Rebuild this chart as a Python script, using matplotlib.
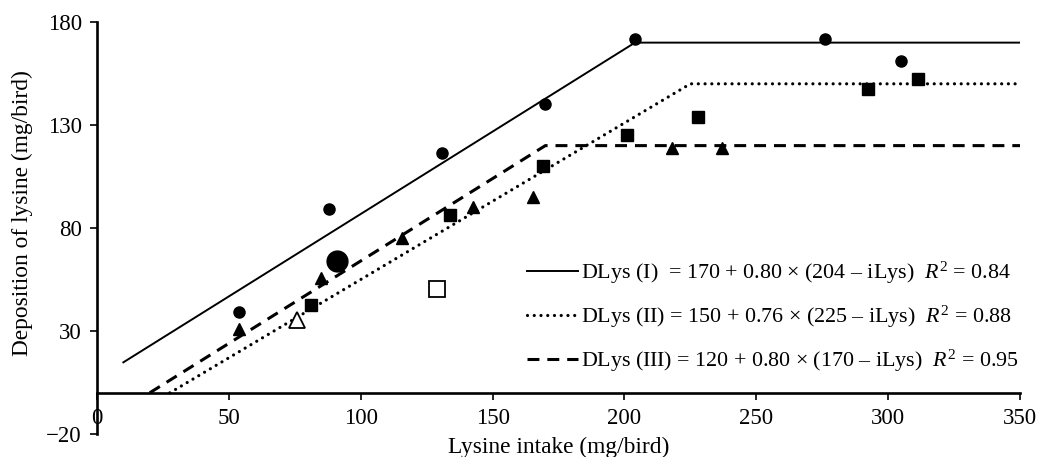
import matplotlib
matplotlib.use("agg")
import matplotlib.pyplot as plt
import numpy as np

plt.rcParams['font.family'] = ['Liberation Serif', 'DejaVu Serif']
plt.rcParams['mathtext.fontset'] = 'custom'
plt.rcParams['mathtext.rm'] = 'Liberation Serif'
plt.rcParams['mathtext.it'] = 'Liberation Serif:italic'

# broken-line models (plateau, slope, break point, first x drawn)
models = [
    ["DLys (I)  = 170 + 0.80 \u00d7 (204 \u2013 iLys)  $R^2$ = 0.84", 170, 0.80, 204, 10],
    ["DLys (II) = 150 + 0.76 \u00d7 (225 \u2013 iLys)  $R^2$ = 0.88", 150, 0.76, 225, 27.6],
    ["DLys (III) = 120 + 0.80 \u00d7 (170 \u2013 iLys)  $R^2$ = 0.95", 120, 0.80, 170, 20],
]
x_end = 350

# observed points
circ_x = [54, 88, 131, 170, 204, 276, 305]
circ_y = [39, 89, 116.5, 140, 172, 172, 161]
sq_x = [81, 134, 169, 201, 228, 292.5, 311.5]
sq_y = [42.5, 86.5, 110, 125, 134, 147.5, 152.5]
tri_x = [54, 85, 115.5, 142.5, 165.5, 218, 237]
tri_y = [31, 55.5, 75, 90, 95, 119, 119]
big_circ = [91, 64]
open_sq = [129, 50.5]
open_tri = [75.8, 35.3]

xticks = [0, 50, 100, 150, 200, 250, 300, 350]
yticks = [-20, 30, 80, 130, 180]

fig = plt.figure(figsize=(10.44, 4.57), dpi=100)
ax = fig.add_axes([0.0929, 0.0503, 0.8841, 0.9015])

styles = [
    dict(linestyle='-', linewidth=1.4),
    dict(linestyle=(0, (0.01, 2.1)), linewidth=2.3, dash_capstyle='round'),
    dict(linestyle=(0, (3.9, 2.6)), linewidth=2.2),
]
handles = []
for m, st in zip(models, styles):
    label, plateau, slope, bp, x0 = m
    xs = np.array([x0, bp, x_end])
    ys = np.where(xs < bp, plateau - slope * (bp - xs), plateau)
    h, = ax.plot(xs, ys, color='black', **st)
    handles.append(h)

ax.plot(circ_x, circ_y, 'o', color='black', ms=8, zorder=3)
ax.plot(sq_x, sq_y, 's', color='black', ms=8, zorder=3)
ax.plot(tri_x, tri_y, '^', color='black', ms=8.5, zorder=3)
ax.plot(big_circ[0], big_circ[1], 'o', color='black', ms=15, zorder=3)
ax.plot(open_sq[0], open_sq[1], 's', mfc='white', mec='black', mew=1.3, ms=11.5, zorder=3)
ax.plot(open_tri[0], open_tri[1], '^', mfc='white', mec='black', mew=1.3, ms=12, zorder=3)

ax.set_xlim(0, 350)
ax.set_ylim(-20, 180)
ax.set_xticks(xticks)
ax.set_yticks(yticks)
ax.spines['top'].set_visible(False)
ax.spines['right'].set_visible(False)
ax.spines['bottom'].set_position(('data', 0))
ax.spines['bottom'].set_linewidth(1.9)
ax.spines['left'].set_linewidth(1.9)
ax.tick_params(direction='out', length=5, width=1.2, labelsize=16.5, pad=6)

ax.set_xlabel("Lysine intake (mg/bird)", fontsize=16.8)
ax.set_ylabel("Deposition of lysine (mg/bird)", fontsize=16.8)
ax.xaxis.set_label_coords(0.5, -0.032)
ax.xaxis.label.set_va('center')
ax.yaxis.set_label_coords(-0.081, 0.536)
ax.yaxis.label.set_va('center')

leg = ax.legend(handles, [m[0] for m in models], loc='upper left',
                bbox_to_anchor=(0.466, 0.422), frameon=False, fontsize=15.8,
                handlelength=2.3, handletextpad=0.15, labelspacing=0.8,
                borderpad=0, borderaxespad=0)

fig.savefig("out.png", dpi=100)
